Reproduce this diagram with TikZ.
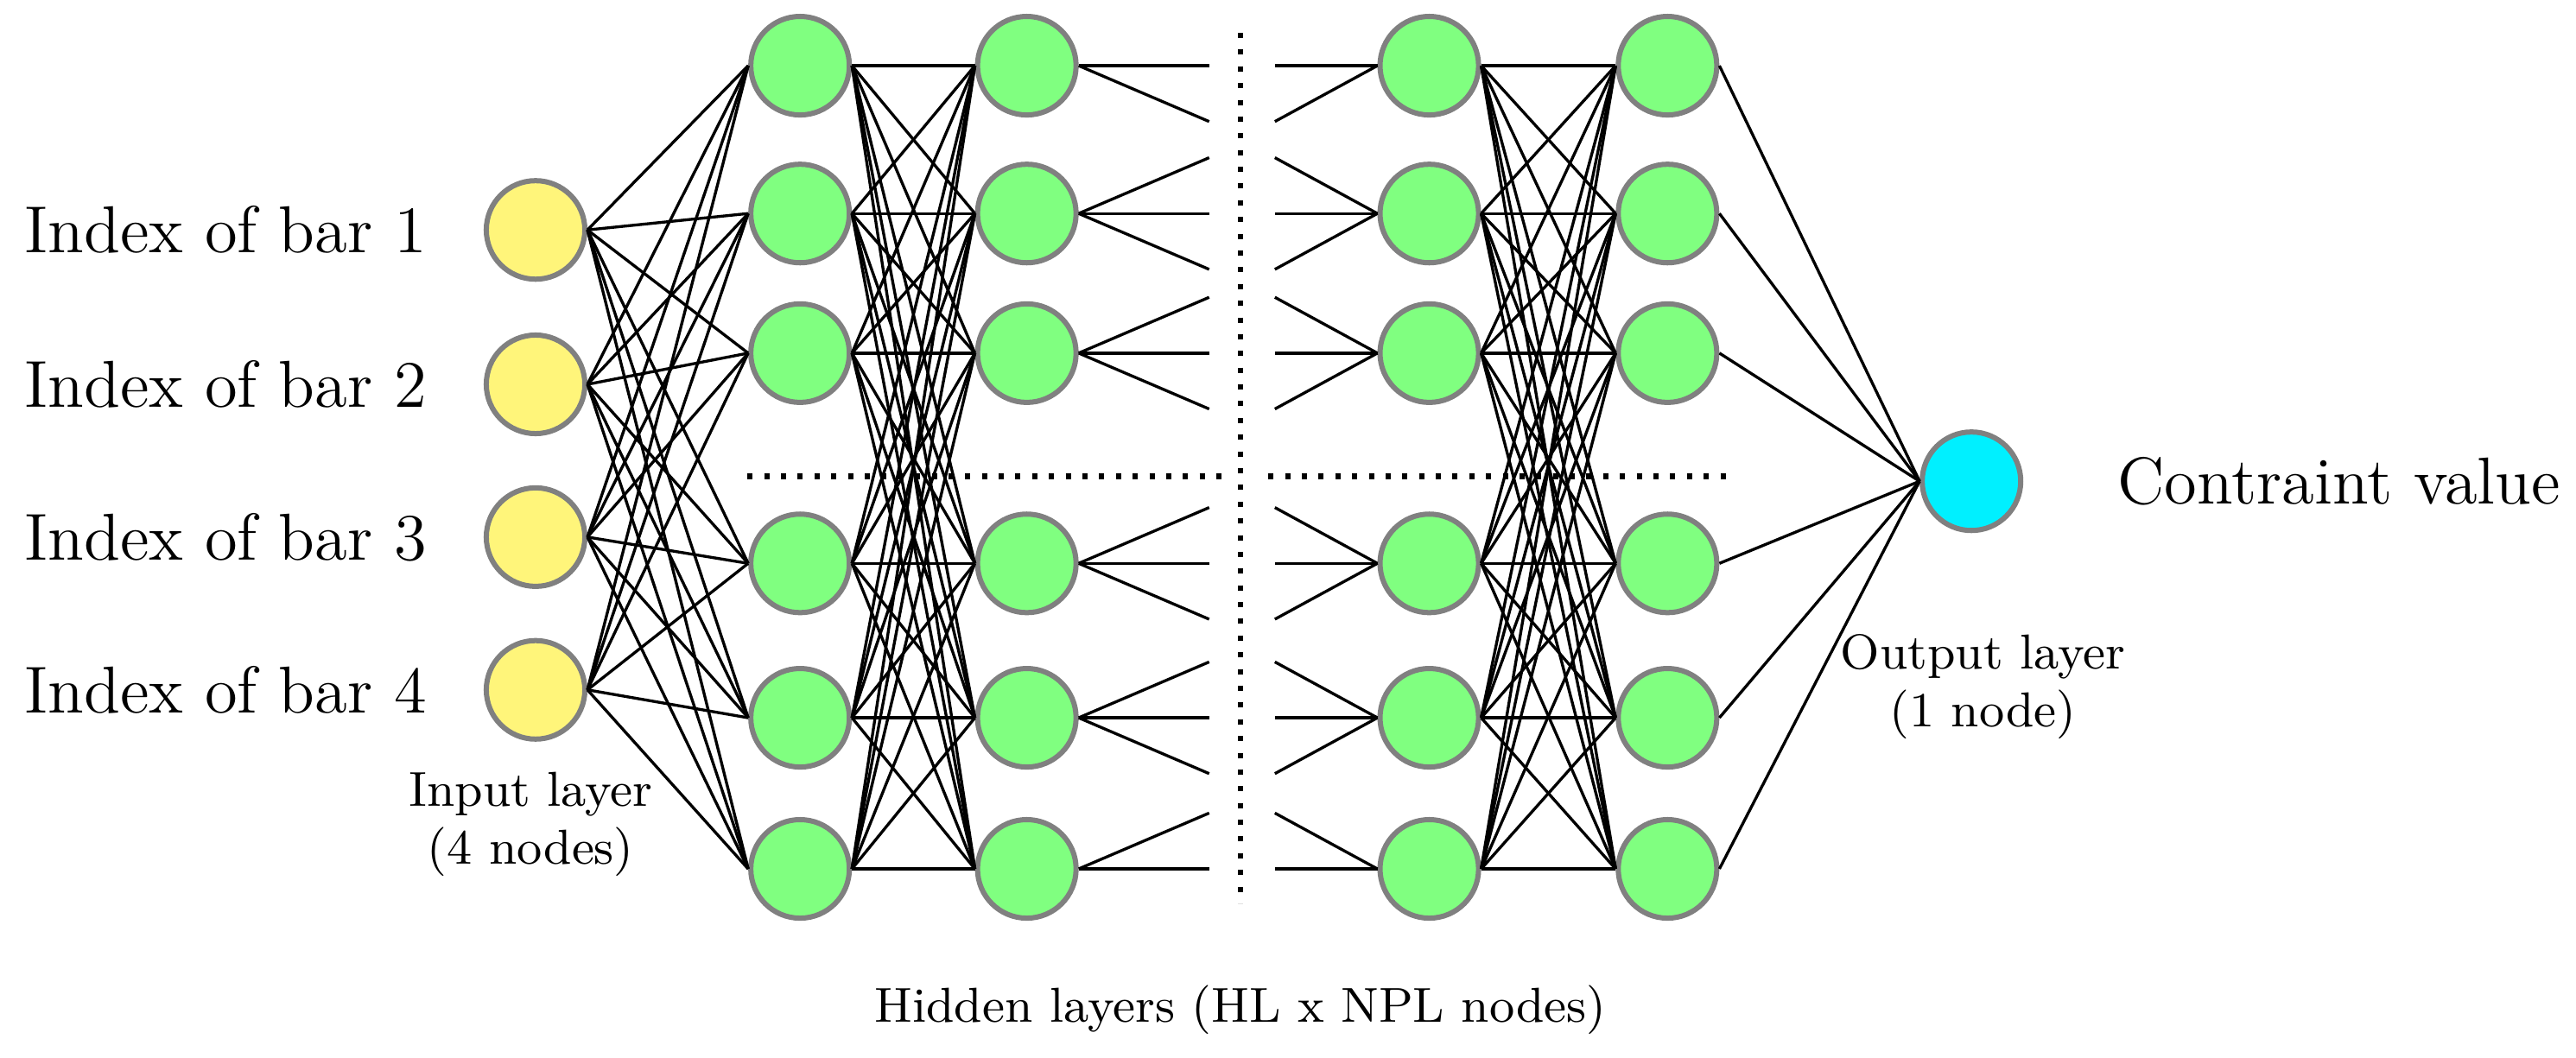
\documentclass[tikz,border=0pt]{standalone}
\usepackage{tikz}
\usetikzlibrary{positioning}

\definecolor{inyellow}{HTML}{FFF57A}
\definecolor{hidgreen}{HTML}{80FF80}
\definecolor{outcyan}{HTML}{00F0FF}

\tikzset{
    neuron/.style={circle, draw=gray, line width=0.9pt, minimum size=0.6cm, inner sep=0pt},
    link/.style={line width=0.5pt},
    sep/.style={dotted, line width=0.9pt},
    biglabel/.style={font=\fontsize{11.5}{14}\selectfont},
    smalllabel/.style={font=\fontsize{8.5}{10}\selectfont, align=center}
}

\begin{document}
\begin{tikzpicture}
    \useasboundingbox (0,0) rectangle (15.68,6.44);

    % Input layer
    \foreach \i/\y in {1/5.04,2/4.10,3/3.17,4/2.24} {
        \node[neuron, fill=inyellow] (in\i) at (3.26,\y) {};
        \node[biglabel, left=0.22cm of in\i] (lab\i) {Index of bar \i};
    }

    % Hidden layers
    \foreach \l/\x in {a/4.87,b/6.25,c/8.70,d/10.15} {
        \foreach \i/\y in {1/6.04,2/5.14,3/4.29,4/3.01,5/2.07,6/1.15} {
            \node[neuron, fill=hidgreen] (h\l\i) at (\x,\y) {};
        }
    }

    % Output layer
    \node[neuron, fill=outcyan] (out) at (12.00,3.51) {};
    \node[biglabel, right=0.45cm of out] (outlab) {Contraint value};

    % Full connections
    \foreach \i in {1,...,4}
        \foreach \j in {1,...,6}
            \draw[link] (in\i.east) -- (ha\j.west);
    \foreach \i in {1,...,6}
        \foreach \j in {1,...,6} {
            \draw[link] (ha\i.east) -- (hb\j.west);
            \draw[link] (hc\i.east) -- (hd\j.west);
        }
    \foreach \j in {1,...,6}
        \draw[link] (hd\j.east) -- (out.west);

    % Stubs towards the omitted layers
    \foreach \i/\y in {1/6.04,2/5.14,3/4.29,4/3.01,5/2.07,6/1.15} {
        \coordinate (sl\i) at (7.36,\y);
        \coordinate (sr\i) at (7.76,\y);
        \draw[link] (hb\i.east) -- (sl\i);
        \draw[link] (hc\i.west) -- (sr\i);
    }
    \foreach \i/\y in {2/5.14,3/4.29,4/3.01,5/2.07,6/1.15} {
        \coordinate (slu\i) at (7.36,\y+0.34);
        \coordinate (sru\i) at (7.76,\y+0.34);
        \draw[link] (hb\i.east) -- (slu\i);
        \draw[link] (hc\i.west) -- (sru\i);
    }
    \foreach \i/\y in {1/6.04,2/5.14,3/4.29,4/3.01,5/2.07} {
        \coordinate (sld\i) at (7.36,\y-0.34);
        \coordinate (srd\i) at (7.76,\y-0.34);
        \draw[link] (hb\i.east) -- (sld\i);
        \draw[link] (hc\i.west) -- (srd\i);
    }

    % Dotted separators
    \draw[sep] (7.55,6.24) -- (7.55,0.94);
    \draw[sep] (4.55,3.54) -- (7.46,3.54);
    \draw[sep] (7.72,3.54) -- (10.55,3.54);

    % Layer captions
    \node[smalllabel] (inlab) at (3.23,1.42) {Input layer\\(4 nodes)};
    \node[smalllabel] (outcap) at (12.07,2.26) {Output layer\\(1 node)};
    \node[smalllabel] (hidlab) at (7.55,0.29) {Hidden layers (HL x NPL nodes)};
\end{tikzpicture}
\end{document}
